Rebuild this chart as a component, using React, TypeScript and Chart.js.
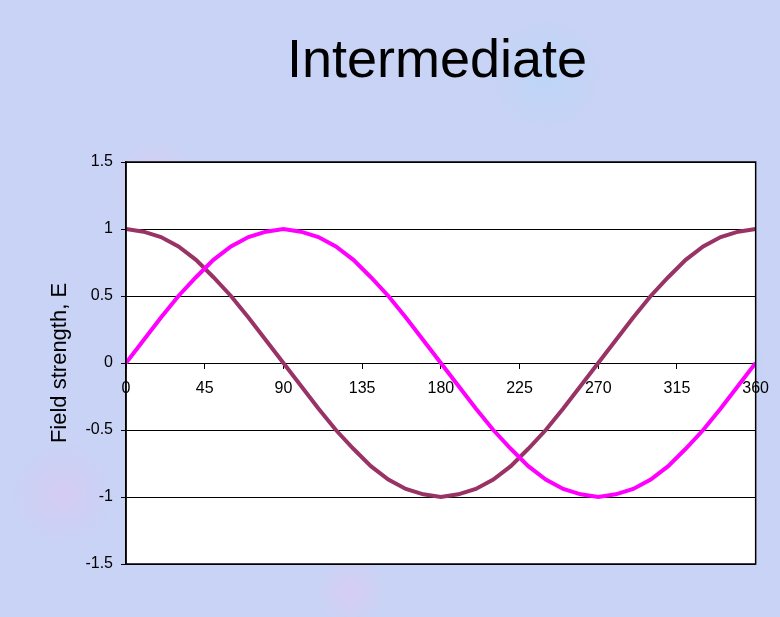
import { useEffect, useRef } from "react"
import { Chart, registerables } from "chart.js"

Chart.register(...registerables)

// angle in degrees, read every 10 degrees
const angles = [
  0, 10, 20, 30, 40, 50, 60, 70, 80, 90, 100, 110, 120, 130, 140, 150, 160, 170, 180,
  190, 200, 210, 220, 230, 240, 250, 260, 270, 280, 290, 300, 310, 320, 330, 340, 350, 360,
]
const sineValues = [
  0, 0.17, 0.34, 0.5, 0.64, 0.77, 0.87, 0.94, 0.98, 1, 0.98, 0.94, 0.87, 0.77, 0.64, 0.5, 0.34, 0.17, 0,
  -0.17, -0.34, -0.5, -0.64, -0.77, -0.87, -0.94, -0.98, -1, -0.98, -0.94, -0.87, -0.77, -0.64, -0.5, -0.34, -0.17, 0,
]
const cosineValues = [
  1, 0.98, 0.94, 0.87, 0.77, 0.64, 0.5, 0.34, 0.17, 0, -0.17, -0.34, -0.5, -0.64, -0.77, -0.87, -0.94, -0.98, -1,
  -0.98, -0.94, -0.87, -0.77, -0.64, -0.5, -0.34, -0.17, 0, 0.17, 0.34, 0.5, 0.64, 0.77, 0.87, 0.94, 0.98, 1,
]
const xTicks = [0, 45, 90, 135, 180, 225, 270, 315, 360]
const yTicks = [-1.5, -1, -0.5, 0, 0.5, 1, 1.5]

const FONT = '"Liberation Sans", Arial, sans-serif'

// white plot area with a black frame, like the spreadsheet chart
const plotFrame = {
  id: "plotFrame",
  beforeDraw(chart: Chart) {
    const { ctx, chartArea } = chart
    ctx.save()
    ctx.fillStyle = "#ffffff"
    ctx.fillRect(chartArea.left, chartArea.top, chartArea.width, chartArea.height)
    ctx.restore()
  },
  afterDraw(chart: Chart) {
    const { ctx, chartArea } = chart
    ctx.save()
    ctx.strokeStyle = "#000000"
    ctx.lineWidth = 1.5
    ctx.strokeRect(chartArea.left, chartArea.top, chartArea.width, chartArea.height)
    ctx.restore()
  },
}

export default function App() {
  const chartRef = useRef<HTMLCanvasElement>(null)
  const chartInstance = useRef<Chart | null>(null)

  useEffect(() => {
    if (!chartRef.current) return
    if (chartInstance.current) chartInstance.current.destroy()

    const ctx = chartRef.current.getContext("2d")
    if (!ctx) return

    chartInstance.current = new Chart(ctx, {
      type: "line",
      data: {
        datasets: [
          {
            label: "sin",
            data: angles.map((a, i) => ({ x: a, y: sineValues[i] })),
            borderColor: "#ff00ff",
            borderWidth: 4,
            pointRadius: 0,
            tension: 0,
          },
          {
            label: "cos",
            data: angles.map((a, i) => ({ x: a, y: cosineValues[i] })),
            borderColor: "#993366",
            borderWidth: 4,
            pointRadius: 0,
            tension: 0,
          },
        ],
      },
      options: {
        animation: false,
        responsive: false,
        layout: { padding: { top: 162, bottom: 53, right: 24, left: 0 } },
        plugins: {
          legend: { display: false },
          tooltip: { enabled: false },
        },
        scales: {
          x: {
            type: "linear",
            position: { y: 0 },
            min: 0,
            max: 360,
            afterBuildTicks: (scale) => {
              scale.ticks = xTicks.map((v) => ({ value: v }))
            },
            ticks: {
              color: "#000000",
              font: { family: FONT, size: 16 },
              padding: 11,
              maxRotation: 0,
              autoSkip: false,
            },
            grid: {
              drawOnChartArea: false,
              drawTicks: true,
              tickLength: 5,
              color: "#000000",
            },
            border: { display: true, color: "#000000", width: 1 },
          },
          y: {
            type: "linear",
            min: -1.5,
            max: 1.5,
            afterBuildTicks: (scale) => {
              scale.ticks = yTicks.map((v) => ({ value: v }))
            },
            afterFit: (scale) => {
              scale.width = 126
            },
            ticks: {
              color: "#000000",
              font: { family: FONT, size: 16 },
              padding: 8,
              callback: (value) => String(value),
            },
            grid: {
              color: "#000000",
              lineWidth: 1,
              drawTicks: true,
              tickLength: 5,
            },
            border: { display: true, color: "#000000", width: 1.5 },
            title: {
              display: true,
              text: "Field strength, E",
              color: "#000000",
              font: { family: FONT, size: 22 },
              padding: { top: 47, bottom: 0 },
            },
          },
        },
      },
      plugins: [plotFrame],
    })

    return () => {
      if (chartInstance.current) {
        chartInstance.current.destroy()
        chartInstance.current = null
      }
    }
  }, [])

  return (
    <div
      style={{
        position: "fixed",
        left: 0,
        top: 0,
        width: 780,
        height: 617,
        backgroundColor: "#c8d3f5",
        backgroundImage:
          "radial-gradient(circle at 20% 30%, rgba(235,200,240,0.5) 0, transparent 6%)," +
          "radial-gradient(circle at 70% 12%, rgba(180,215,250,0.6) 0, transparent 7%)," +
          "radial-gradient(circle at 8% 80%, rgba(225,195,240,0.5) 0, transparent 6%)," +
          "radial-gradient(circle at 92% 60%, rgba(175,210,250,0.6) 0, transparent 6%)," +
          "radial-gradient(circle at 45% 96%, rgba(230,200,240,0.5) 0, transparent 5%)",
      }}
    >
      <div
        style={{
          position: "absolute",
          left: 0,
          width: 874,
          top: 26,
          textAlign: "center",
          fontFamily: FONT,
          fontSize: 54,
          lineHeight: "64px",
          color: "#000000",
        }}
      >
        Intermediate
      </div>
      <canvas
        ref={chartRef}
        width={780}
        height={617}
        style={{ position: "absolute", left: 0, top: 0 }}
      />
    </div>
  )
}
